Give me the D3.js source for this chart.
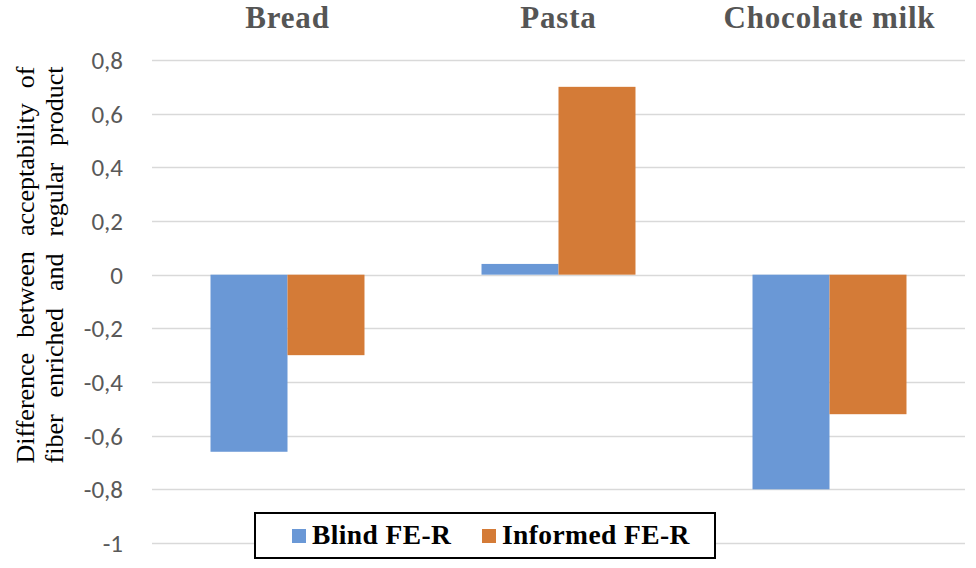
<!DOCTYPE html>
<html>
<head>
<meta charset="utf-8">
<script src="https://cdn.jsdelivr.net/npm/d3@7"></script>
<style>
  body { margin: 0; background: #fff; }
</style>
</head>
<body>
<div id="container"></div>
<script>
// products along the top, two series per product
const categories = ["Bread", "Pasta", "Chocolate milk"];
const series = ["Blind FE-R", "Informed FE-R"];
const blindValues = [-0.66, 0.04, -0.80];
const informedValues = [-0.30, 0.70, -0.52];
const tickValues = [0.8, 0.6, 0.4, 0.2, 0, -0.2, -0.4, -0.6, -0.8, -1];
const titleLines = ["Difference between acceptability of", "fiber enriched and regular product"];
const colors = ["#6a98d6", "#d47b37"];

function drawChart(){
    const width = 976;
    const height = 568;
    const left = 152;
    const right = 965;
    const serif = "'Liberation Serif', 'Times New Roman', serif";

    const svg = d3.select("#container")
        .append("svg")
        .attr("width", width)
        .attr("height", height);

    //y scale, 0.8 at the top line and -1 at the bottom
    const yScale = d3.scaleLinear()
        .domain([-1, 0.8])
        .range([543, 60]);

    const x0 = d3.scaleBand()
        .domain(categories)
        .range([left, right]);

    const x1 = d3.scaleBand()
        .domain(series)
        .range([0, x0.bandwidth()])
        .paddingOuter(0.76);

    //grid lines
    svg.append("g")
        .selectAll("line")
        .data(tickValues)
        .join("line")
        .attr("x1", left)
        .attr("x2", right)
        .attr("y1", d => Math.round(yScale(d)) + 0.5)
        .attr("y2", d => Math.round(yScale(d)) + 0.5)
        .attr("stroke", "#d9d9d9")
        .attr("stroke-width", 1.3);

    //tick labels with comma decimals
    svg.append("g")
        .selectAll("text")
        .data(tickValues)
        .join("text")
        .attr("x", 123)
        .attr("y", d => yScale(d))
        .attr("dy", "0.36em")
        .attr("text-anchor", "end")
        .attr("font-family", "Carlito, 'Liberation Sans', sans-serif")
        .attr("font-size", 25)
        .attr("fill", "#595959")
        .text(d => String(d).replace(".", ","));

    //bars
    const rows = categories.map((c, i) => ({
        category: c,
        values: [blindValues[i], informedValues[i]]
    }));

    rows.forEach(row => {
        row.values.forEach((v, j) => {
            svg.append("rect")
                .attr("x", x0(row.category) + x1(series[j]))
                .attr("y", yScale(Math.max(0, v)))
                .attr("width", x1.bandwidth())
                .attr("height", Math.abs(yScale(v) - yScale(0)))
                .attr("fill", colors[j]);
        });
    });

    //category labels on top
    svg.append("g")
        .selectAll("text")
        .data(categories)
        .join("text")
        .attr("x", d => x0(d) + x0.bandwidth() / 2)
        .attr("y", 28)
        .attr("text-anchor", "middle")
        .attr("font-family", serif)
        .attr("font-weight", "bold")
        .attr("font-size", 31)
        .attr("letter-spacing", 0.8)
        .attr("fill", "#555555")
        .text(d => d);

    //y axis title, two justified lines
    const titleLen = 397;
    titleLines.forEach((line, i) => {
        const t = svg.append("text")
            .attr("transform", `translate(${34 + i * 29},265) rotate(-90)`)
            .attr("text-anchor", "middle")
            .attr("font-family", serif)
            .attr("font-size", 26)
            .attr("fill", "#000")
            .text(line);
        const spaces = line.split(" ").length - 1;
        const extra = (titleLen - t.node().getComputedTextLength()) / spaces;
        t.attr("word-spacing", extra);
    });

    //legend
    svg.append("rect")
        .attr("x", 255)
        .attr("y", 513)
        .attr("width", 460)
        .attr("height", 45)
        .attr("fill", "#fff")
        .attr("stroke", "#000")
        .attr("stroke-width", 2);

    const legendX = [292, 482];
    series.forEach((s, j) => {
        svg.append("rect")
            .attr("x", legendX[j])
            .attr("y", 529)
            .attr("width", 14)
            .attr("height", 14)
            .attr("fill", colors[j]);
        svg.append("text")
            .attr("x", legendX[j] + 20)
            .attr("y", 544)
            .attr("font-family", serif)
            .attr("font-weight", "bold")
            .attr("font-size", 27.5)
            .attr("letter-spacing", 0.4)
            .attr("fill", "#000")
            .text(s);
    });
}

drawChart();
</script>
</body>
</html>
